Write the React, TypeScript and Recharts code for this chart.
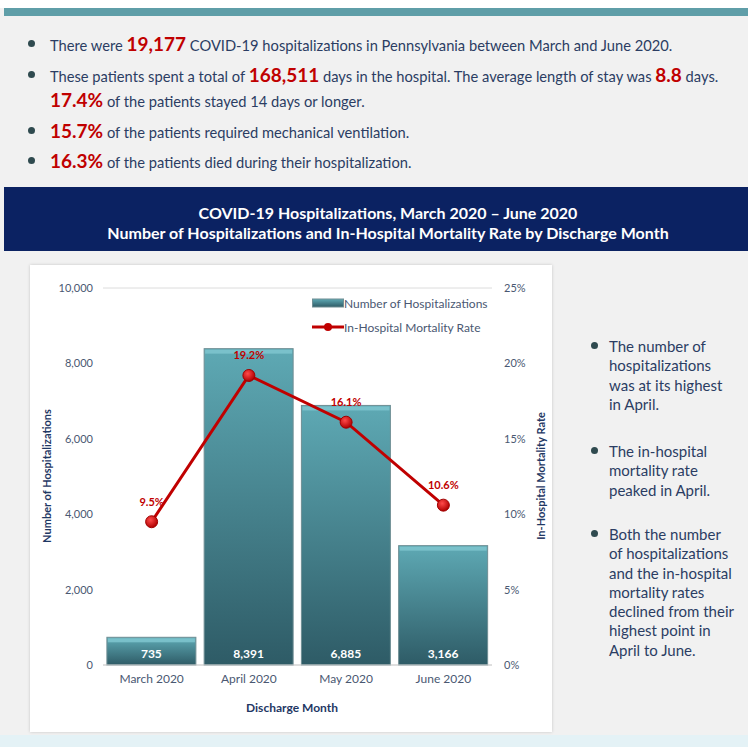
import { ComposedChart, Bar, Line, XAxis, YAxis, CartesianGrid, LabelList } from 'recharts'

const months = ['March 2020', 'April 2020', 'May 2020', 'June 2020']
const hospitalizations = [735, 8391, 6885, 3166]
const mortalityRate = [9.5, 19.2, 16.1, 10.6]
const countTicks = [0, 2000, 4000, 6000, 8000, 10000]
const rateTicks = [0, 5, 10, 15, 20, 25]

const data = months.map((m, i) => ({
  month: m,
  count: hospitalizations[i],
  rate: mortalityRate[i],
}))

const FONT = 'Lato, "Open Sans", sans-serif'
const RED = '#c00000'
const INK = '#2b3d63'
const TICK = '#4a5872'

const GradientBar = (props: any) => {
  const { x, y, width, height } = props
  if (!height || height <= 0) return null
  return (
    <g>
      <rect x={x} y={y} width={width} height={height} fill="url(#barFill)" stroke="#6f8e94" strokeWidth={1} />
      <rect x={x + 1} y={y + 1} width={width - 2} height={Math.min(4, height - 2)} fill="#7fc6cf" opacity={0.85} />
    </g>
  )
}

const LegendBox = () => (
  <div style={{ position: 'absolute', left: 282, top: 29, fontFamily: FONT, fontSize: 12, color: TICK, whiteSpace: 'nowrap' }}>
    <div style={{ display: 'flex', alignItems: 'center', height: 18 }}>
      <svg width={32} height={10}>
        <defs>
          <linearGradient id="legFill" x1="0" y1="0" x2="0" y2="1">
            <stop offset="0%" stopColor="#5ea9b4" />
            <stop offset="100%" stopColor="#2e5b66" />
          </linearGradient>
        </defs>
        <rect x={0.5} y={1} width={31} height={8} fill="url(#legFill)" stroke="#6f8e94" />
      </svg>
      <span>Number of Hospitalizations</span>
    </div>
    <div style={{ display: 'flex', alignItems: 'center', height: 18, marginTop: 6 }}>
      <svg width={32} height={12}>
        <line x1={0} y1={6} x2={32} y2={6} stroke={RED} strokeWidth={3} />
        <circle cx={16} cy={6} r={4} fill={RED} />
      </svg>
      <span>In-Hospital Mortality Rate</span>
    </div>
  </div>
)

const Bullet = ({ x, y, color = '#2f4a4f' }: { x: number; y: number; color?: string }) => (
  <div style={{ position: 'absolute', left: x - 3.5, top: y - 3.5, width: 7, height: 7, borderRadius: '50%', background: color }} />
)

const red = (t: string) => <span style={{ color: RED, fontWeight: 700, fontSize: 19 }}>{t}</span>

function App() {
  const line = (top: number, content: any) => (
    <div style={{ position: 'absolute', left: 50, top: top - 11, height: 22, lineHeight: '22px', whiteSpace: 'nowrap', fontSize: 14.7, color: INK }}>
      {content}
    </div>
  )
  const rightLines1 = ['The number of', 'hospitalizations', 'was at its highest', 'in April.']
  const rightLines2 = ['The in-hospital', 'mortality rate', 'peaked in April.']
  const rightLines3 = ['Both the number', 'of hospitalizations', 'and the in-hospital', 'mortality rates', 'declined from their', 'highest point in', 'April to June.']
  const rightBlock = (top: number, lines: string[]) => (
    <div style={{ position: 'absolute', left: 609, top: top - 10, fontSize: 15, lineHeight: '19.3px', color: INK, whiteSpace: 'nowrap' }}>
      {lines.map((l) => (
        <div key={l}>{l}</div>
      ))}
    </div>
  )

  return (
    <div style={{ position: 'absolute', left: 0, top: 0, width: 748, height: 747, overflow: 'hidden', background: '#f1f1f1', fontFamily: FONT }}>
      <div style={{ position: 'absolute', left: 0, top: 0, width: 748, height: 8, background: '#ffffff' }} />
      <div style={{ position: 'absolute', left: 4, top: 8, width: 760, height: 8, background: '#5f9ea8' }} />

      <Bullet x={31} y={43} />
      {line(44, <>There were {red('19,177')} COVID-19 hospitalizations in Pennsylvania between March and June 2020.</>)}
      <Bullet x={31} y={74} />
      {line(75, <>These patients spent a total of {red('168,511')} days in the hospital. The average length of stay was {red('8.8')} days.</>)}
      {line(100, <>{red('17.4%')} of the patients stayed 14 days or longer.</>)}
      <Bullet x={31} y={130} />
      {line(131, <>{red('15.7%')} of the patients required mechanical ventilation.</>)}
      <Bullet x={31} y={160} />
      {line(161, <>{red('16.3%')} of the patients died during their hospitalization.</>)}

      <div style={{ position: 'absolute', left: 4, top: 187, width: 768, height: 64, background: '#0b2262', color: '#ffffff', fontWeight: 700, fontSize: 16, textAlign: 'center', lineHeight: '20px' }}>
        <div style={{ marginTop: 16 }}>COVID-19 Hospitalizations, March 2020 – June 2020</div>
        <div>Number of Hospitalizations and In-Hospital Mortality Rate by Discharge Month</div>
      </div>

      <div style={{ position: 'absolute', left: 30, top: 265, width: 522, height: 467, background: '#ffffff', boxShadow: '0 0 3px rgba(0,0,0,0.18)' }}>
        <ComposedChart width={522} height={467} data={data} margin={{ top: 23, right: 0, bottom: 27, left: 0 }} barCategoryGap="4%">
          <defs>
            <linearGradient id="barFill" x1="0" y1="0" x2="0" y2="1">
              <stop offset="0%" stopColor="#5ea9b4" />
              <stop offset="100%" stopColor="#2e5b66" />
            </linearGradient>
            <radialGradient id="dotFill" cx="40%" cy="35%" r="65%">
              <stop offset="0%" stopColor="#ff4a4a" />
              <stop offset="100%" stopColor="#b00000" />
            </radialGradient>
          </defs>
          <CartesianGrid vertical={false} stroke="#dcdcdc" />
          <XAxis dataKey="month" height={40} tickLine={false} tickSize={0} tickMargin={9} axisLine={{ stroke: '#d0d0d0' }} tick={{ fill: TICK, fontSize: 12, fontFamily: FONT }} />
          <YAxis yAxisId="count" domain={[0, 10000]} ticks={countTicks} width={73} tickLine={false} tickSize={0} tickMargin={10} axisLine={false} tickFormatter={(v: number) => v.toLocaleString('en-US')} tick={{ fill: TICK, fontSize: 11, fontFamily: FONT }} />
          <YAxis yAxisId="rate" orientation="right" domain={[0, 25]} ticks={rateTicks} width={60} tickLine={false} tickSize={0} tickMargin={12} axisLine={false} tickFormatter={(v: number) => `${v}%`} tick={{ fill: TICK, fontSize: 11, fontFamily: FONT }} />
          <Bar yAxisId="count" dataKey="count" name="Number of Hospitalizations" shape={GradientBar} isAnimationActive={false}>
            <LabelList dataKey="count" position="insideBottom" offset={7} formatter={(v: any) => Number(v).toLocaleString('en-US')} style={{ fill: '#ffffff', fontSize: 12, fontWeight: 700, fontFamily: FONT }} />
          </Bar>
          <Line yAxisId="rate" dataKey="rate" name="In-Hospital Mortality Rate" stroke={RED} strokeWidth={3} dot={{ r: 6, fill: 'url(#dotFill)', stroke: '#a00000', strokeWidth: 1 }} activeDot={false} isAnimationActive={false}>
            <LabelList dataKey="rate" position="top" offset={16} formatter={(v: any) => `${v}%`} style={{ fill: RED, fontSize: 11, fontWeight: 700, fontFamily: FONT }} />
          </Line>
        </ComposedChart>
        <LegendBox />
        <div style={{ position: 'absolute', left: 17.5 - 100, top: 211 - 8, width: 200, height: 16, textAlign: 'center', transform: 'rotate(-90deg)', fontSize: 11, fontWeight: 700, color: '#1f3864', whiteSpace: 'nowrap' }}>
          Number of Hospitalizations
        </div>
        <div style={{ position: 'absolute', left: 512 - 100, top: 211 - 8, width: 200, height: 16, textAlign: 'center', transform: 'rotate(-90deg)', fontSize: 11, fontWeight: 700, color: '#1f3864', whiteSpace: 'nowrap' }}>
          In-Hospital Mortality Rate
        </div>
        <div style={{ position: 'absolute', left: 162, top: 435, width: 200, textAlign: 'center', fontSize: 12, fontWeight: 700, color: '#1f3864' }}>
          Discharge Month
        </div>
      </div>

      <Bullet x={594} y={345} />
      {rightBlock(347, rightLines1)}
      <Bullet x={594} y={450} />
      {rightBlock(452, rightLines2)}
      <Bullet x={594} y={533} />
      {rightBlock(535, rightLines3)}

      <div style={{ position: 'absolute', left: 0, top: 735, width: 748, height: 12, background: '#e4f2f6' }} />
    </div>
  )
}

export default App
